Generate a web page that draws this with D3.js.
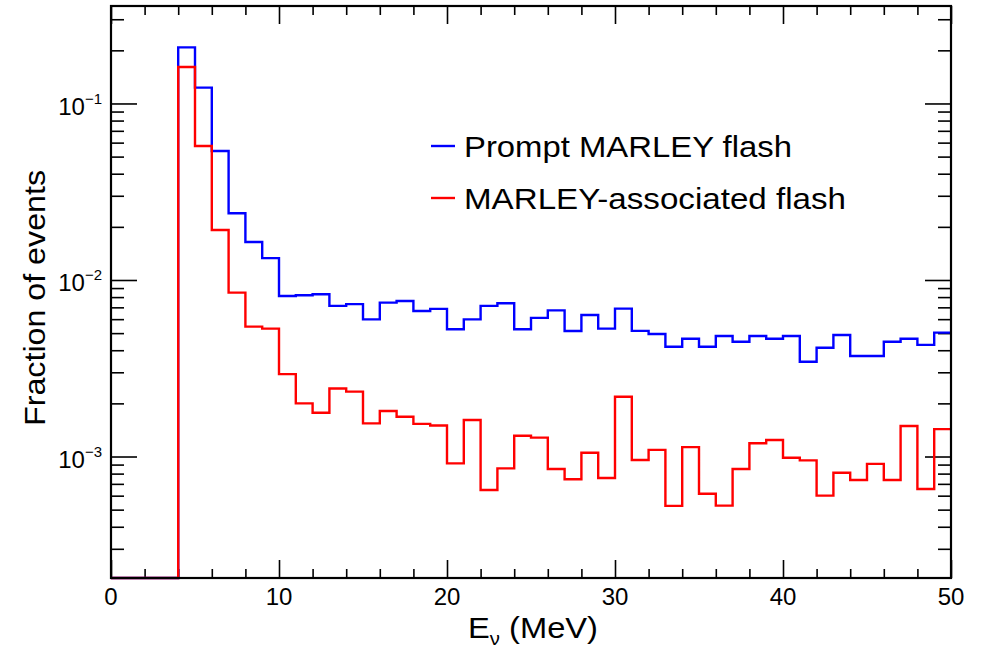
<!DOCTYPE html>
<html>
<head>
<meta charset="utf-8">
<script src="https://cdn.jsdelivr.net/npm/d3@7"></script>
<style>
  html, body { margin: 0; padding: 0; background: #fff; }
  svg { display: block; font-family: "Liberation Sans", Arial, Helvetica, sans-serif; }
</style>
</head>
<body>
<div id="chart"></div>
<script>
// Neutrino energy spectrum, fraction of events per 1 MeV bin (0..50 MeV)

const binEdges = d3.range(0, 51); // 0,1,...,50 MeV

// Prompt MARLEY flash (blue)
const promptFlash = [
  0, 0, 0, 0, 0.208, 0.123, 0.0538, 0.0239, 0.0164, 0.0133,
  0.00811, 0.0082, 0.0083, 0.00713, 0.0073, 0.00598, 0.00744, 0.0076, 0.00667, 0.00686,
  0.00526, 0.00598, 0.00713, 0.00738, 0.00526, 0.0061, 0.00673, 0.00514, 0.00633, 0.0053,
  0.00688, 0.00515, 0.00494, 0.00419, 0.00465, 0.00419, 0.00482, 0.00447, 0.00482, 0.00465,
  0.00482, 0.00344, 0.00413, 0.00488, 0.00371, 0.00371, 0.00447, 0.00465, 0.00429, 0.00503
];

// MARLEY-associated flash (red)
const associatedFlash = [
  0, 0, 0, 0, 0.161, 0.0574, 0.0192, 0.00848, 0.00544, 0.0053,
  0.00293, 0.0020, 0.00177, 0.00243, 0.00233, 0.00154, 0.00181, 0.00168, 0.00153, 0.0015,
  0.000914, 0.00161, 0.000646, 0.000857, 0.00131, 0.00128, 0.00085, 0.000743, 0.00105, 0.000755,
  0.00218, 0.000955, 0.00109, 0.000525, 0.00113, 0.000615, 0.000527, 0.00085, 0.00119, 0.00124,
  0.000984, 0.000951, 0.0006, 0.000809, 0.000736, 0.000908, 0.000736, 0.00149, 0.000655, 0.00143
];

const seriesNames = ['Prompt MARLEY flash', 'MARLEY-associated flash'];
const seriesColors = ['#0000ff', '#ff0000'];

const xMajorTicks = [0, 10, 20, 30, 40, 50];
const yDecades = [1e-3, 1e-2, 1e-1];
const yExponents = ['\u22123', '\u22122', '\u22121'];

// axis ranges
const xDomain = [0, 50];
const yDomain = [2.05e-4, 0.3566];

const W = 990, H = 649;
const frame = { left: 111, right: 951, top: 6, bottom: 578 };

const svg = d3.select('#chart').append('svg')
  .attr('width', W)
  .attr('height', H);

const x = d3.scaleLinear().domain(xDomain).range([frame.left, frame.right]);
const y = d3.scaleLog().domain(yDomain).range([frame.bottom, frame.top]);

// ── Ticks ──
const xMinorTicks = d3.range(0, 51, 2).filter(v => !xMajorTicks.includes(v));
const yMinorTicks = [];
for (let e = -4; e <= 0; e++) {
  for (let m = 2; m <= 9; m++) {
    const v = m * Math.pow(10, e);
    if (v > yDomain[0] && v < yDomain[1]) yMinorTicks.push(v);
  }
}

function styleTicks(g) {
  g.select('.domain').remove();
  g.selectAll('line').attr('stroke', '#000').attr('stroke-width', 1.6);
  g.selectAll('text').remove();
}

// bottom
svg.append('g').attr('transform', `translate(0,${frame.bottom})`)
  .call(d3.axisBottom(x).tickValues(xMajorTicks).tickSize(-18)).call(styleTicks);
svg.append('g').attr('transform', `translate(0,${frame.bottom})`)
  .call(d3.axisBottom(x).tickValues(xMinorTicks).tickSize(-9)).call(styleTicks);
// top
svg.append('g').attr('transform', `translate(0,${frame.top})`)
  .call(d3.axisTop(x).tickValues(xMajorTicks).tickSize(-18)).call(styleTicks);
svg.append('g').attr('transform', `translate(0,${frame.top})`)
  .call(d3.axisTop(x).tickValues(xMinorTicks).tickSize(-9)).call(styleTicks);
// left
svg.append('g').attr('transform', `translate(${frame.left},0)`)
  .call(d3.axisLeft(y).tickValues(yDecades).tickSize(-26)).call(styleTicks);
svg.append('g').attr('transform', `translate(${frame.left},0)`)
  .call(d3.axisLeft(y).tickValues(yMinorTicks).tickSize(-13)).call(styleTicks);
// right
svg.append('g').attr('transform', `translate(${frame.right},0)`)
  .call(d3.axisRight(y).tickValues(yDecades).tickSize(-26)).call(styleTicks);
svg.append('g').attr('transform', `translate(${frame.right},0)`)
  .call(d3.axisRight(y).tickValues(yMinorTicks).tickSize(-13)).call(styleTicks);

// ── Histograms ──
const stepLine = d3.line()
  .curve(d3.curveStepAfter)
  .x(d => x(d.edge))
  .y(d => y(Math.max(d.value, yDomain[0])));

function histPoints(values) {
  const pts = values.map((v, i) => ({ edge: binEdges[i], value: v }));
  pts.push({ edge: binEdges[values.length], value: values[values.length - 1] });
  return pts;
}

[promptFlash, associatedFlash].forEach((vals, i) => {
  svg.append('path')
    .datum(histPoints(vals))
    .attr('fill', 'none')
    .attr('stroke', seriesColors[i])
    .attr('stroke-width', 2.4)
    .attr('d', stepLine);
});

// ── Frame ──
svg.append('rect')
  .attr('x', frame.left)
  .attr('y', frame.top)
  .attr('width', frame.right - frame.left)
  .attr('height', frame.bottom - frame.top)
  .attr('fill', 'none')
  .attr('stroke', '#000')
  .attr('stroke-width', 2.2);

// ── Tick labels ──
svg.append('g').selectAll('text')
  .data(xMajorTicks)
  .join('text')
  .attr('x', d => x(d))
  .attr('y', 605)
  .attr('text-anchor', 'middle')
  .attr('font-size', 24)
  .attr('fill', '#000')
  .text(d => d);

const yLab = svg.append('g').selectAll('text')
  .data(yDecades)
  .join('text')
  .attr('x', 102)
  .attr('y', d => y(d) + 11.5)
  .attr('text-anchor', 'end')
  .attr('font-size', 24)
  .attr('fill', '#000');
yLab.append('tspan').text('10');
yLab.append('tspan')
  .attr('font-size', 15)
  .attr('dy', -11)
  .text((d, i) => yExponents[i]);

// ── Axis titles ──
const xTitle = svg.append('text')
  .attr('x', 468)
  .attr('y', 638)
  .attr('font-size', 29)
  .attr('textLength', 130)
  .attr('lengthAdjust', 'spacingAndGlyphs')
  .attr('fill', '#000');
xTitle.append('tspan').text('E');
xTitle.append('tspan').attr('font-size', 18).attr('dy', 7).text('\u03bd');
xTitle.append('tspan').attr('dy', -7).text(' (MeV)');

svg.append('text')
  .attr('transform', 'translate(45,298) rotate(-90)')
  .attr('text-anchor', 'middle')
  .attr('font-size', 30)
  .attr('textLength', 256)
  .attr('lengthAdjust', 'spacingAndGlyphs')
  .attr('fill', '#000')
  .text('Fraction of events');

// ── Legend ──
const legendWidths = [328, 382];
const legend = svg.append('g');
seriesNames.forEach((name, i) => {
  const ly = 146 + i * 52;
  legend.append('line')
    .attr('x1', 431).attr('x2', 455)
    .attr('y1', ly).attr('y2', ly)
    .attr('stroke', seriesColors[i])
    .attr('stroke-width', 2.4);
  legend.append('text')
    .attr('x', 464)
    .attr('y', ly + 11)
    .attr('font-size', 30)
    .attr('textLength', legendWidths[i])
    .attr('lengthAdjust', 'spacingAndGlyphs')
    .attr('fill', '#000')
    .text(name);
});
</script>
</body>
</html>
